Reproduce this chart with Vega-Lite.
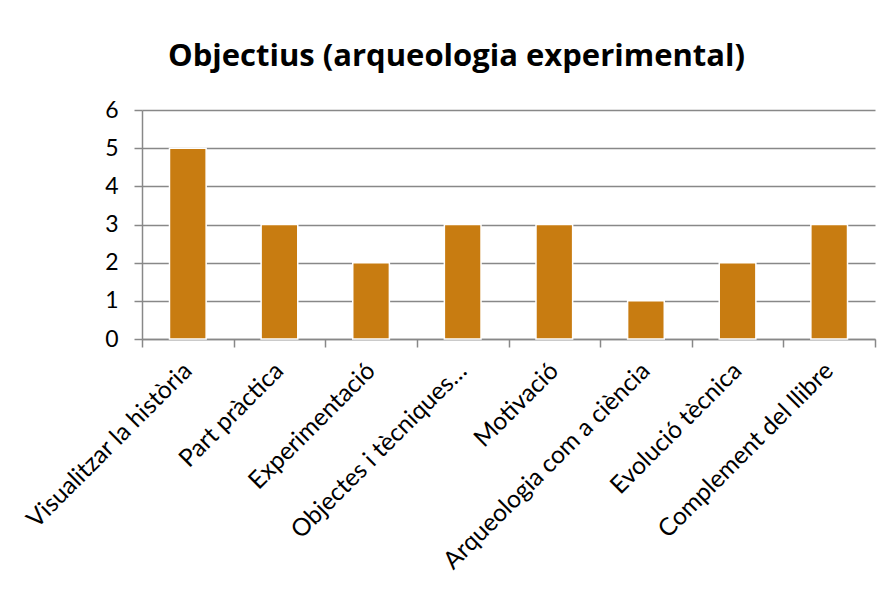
{
  "$schema": "https://vega.github.io/schema/vega-lite/v6.json",
  "autosize": {"type": "none"},
  "width": 733,
  "height": 229,
  "padding": {"left": 142, "top": 110, "right": 15, "bottom": 253},
  "background": "white",
  "title": {
    "text": "Objectius (arqueologia experimental)",
    "font": "Open Sans",
    "fontSize": 31,
    "fontWeight": "bold",
    "color": "black",
    "anchor": "middle",
    "offset": 26,
    "dx": -52
  },
  "data": {
    "values": [
      {"cat": "Visualitzar la història", "v": 5},
      {"cat": "Part pràctica", "v": 3},
      {"cat": "Experimentació", "v": 2},
      {"cat": "Objectes i tècniques…", "v": 3},
      {"cat": "Motivació", "v": 3},
      {"cat": "Arqueologia com a ciència", "v": 1},
      {"cat": "Evolució tècnica", "v": 2},
      {"cat": "Complement del llibre", "v": 3}
    ]
  },
  "mark": {"type": "bar", "color": "#C87C11", "stroke": "white", "strokeWidth": 1.5, "width": {"band": 0.4}},
  "encoding": {
    "x": {
      "field": "cat",
      "type": "nominal",
      "sort": null,
      "scale": {"paddingInner": 0, "paddingOuter": 0},
      "axis": {
        "title": null,
        "labelAngle": -45,
        "labelAlign": "right",
        "labelBaseline": "middle",
        "labelFont": "Lato",
        "labelFontSize": 24.5,
        "labelColor": "black",
        "labelPadding": 20,
        "tickBand": "extent",
        "tickColor": "#888888",
        "tickSize": 8,
        "tickWidth": 1.5,
        "domainColor": "#888888",
        "domainWidth": 1.5,
        "labelLimit": 400
      }
    },
    "y": {
      "field": "v",
      "type": "quantitative",
      "scale": {"domain": [0, 6], "nice": false},
      "axis": {
        "title": null,
        "values": [0, 1, 2, 3, 4, 5, 6],
        "labelFont": "Lato",
        "labelFontSize": 23,
        "labelColor": "black",
        "labelPadding": 16,
        "tickColor": "#888888",
        "tickSize": 8,
        "tickWidth": 1.5,
        "domainColor": "#888888",
        "domainWidth": 1.5,
        "grid": true,
        "gridColor": "#888888",
        "gridWidth": 1.5
      }
    }
  },
  "config": {"view": {"stroke": null}}
}
